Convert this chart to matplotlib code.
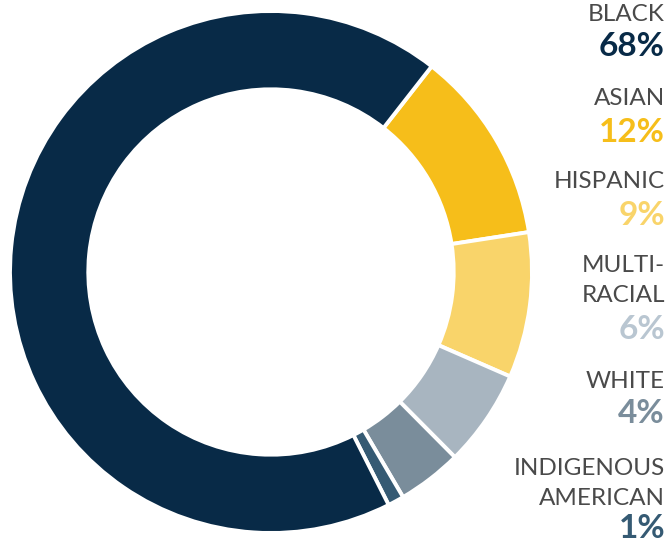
import matplotlib.pyplot as plt

# slices in clockwise order, starting at the Black/Asian boundary
groups = ["ASIAN", "HISPANIC", "MULTI-\nRACIAL", "WHITE", "INDIGENOUS\nAMERICAN", "BLACK"]
shares = [12, 9, 6, 4, 1, 68]
slice_colors = ["#F6BE1A", "#F9D46A", "#A8B5C0", "#7A8D9B", "#355A73", "#082A47"]

# legend on the right, top to bottom
legend_labels = ["BLACK", "ASIAN", "HISPANIC", "MULTI-\nRACIAL", "WHITE", "INDIGENOUS\nAMERICAN"]
legend_values = [68, 12, 9, 6, 4, 1]
legend_colors = ["#082A47", "#F6BE1A", "#F9D46A", "#B9C6D1", "#7A8D9B", "#355A73"]

W, H = 670, 542
LABEL_GRAY = "#4A4A4A"

fig = plt.figure(figsize=(W / 100, H / 100), dpi=100)
ax = fig.add_axes([10 / W, 9 / H, 522 / W, 522 / H])
ax.pie(shares, colors=slice_colors, startangle=52, counterclock=False,
       radius=1.0,
       wedgeprops=dict(width=0.30, edgecolor="white", linewidth=2.8))
ax.set_xlim(-1, 1)
ax.set_ylim(-1, 1)
ax.set_aspect("equal")
ax.axis("off")

# baselines (pixels from top) of the label block and its value
label_base = [21, 105, 188, 302, 388, 505]
value_base = [56, 142, 225, 339, 423, 538]
x_right = 665 / W
for lab, val, col, lb, vb in zip(legend_labels, legend_values, legend_colors,
                                 label_base, value_base):
    lines = lab.split("\n")
    for i, line in enumerate(reversed(lines)):
        fig.text(x_right, 1 - (lb - i * 30) / H, line, ha="right", va="baseline",
                 fontsize=17.5, color=LABEL_GRAY, family="Lato")
    fig.text(x_right, 1 - vb / H, f"{val}%", ha="right", va="baseline",
             fontsize=24, fontweight="bold", color=col, family="Lato")

fig.savefig("out.png", dpi=100)
